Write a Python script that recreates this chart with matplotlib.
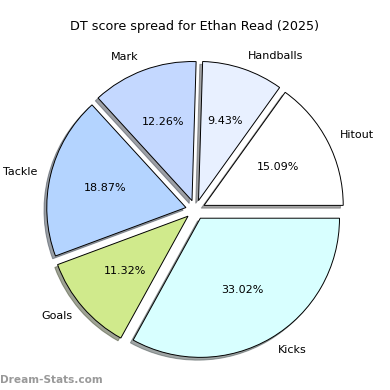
import matplotlib
matplotlib.use("Agg")
import matplotlib.pyplot as plt

labels = ["Hitout", "Handballs", "Mark", "Tackle", "Goals", "Kicks"]
points = [16, 10, 13, 20, 12, 35]
colors = ["#ffffff", "#e8f0ff", "#c4d8ff", "#b4d4ff", "#d0ea8c", "#d8ffff"]
explode = [0.07] * len(labels)

fig = plt.figure(figsize=(3.9, 3.9), dpi=100)
ax = fig.add_axes([0.055, 0.016, 0.892, 0.892])
ax.pie(points, labels=labels, colors=colors, explode=explode, autopct="%1.2f%%",
       startangle=0, shadow={"ox": -0.0144, "oy": -0.0144},
       textprops={"fontsize": 8},
       wedgeprops={"edgecolor": "black", "linewidth": 0.7})
ax.set_aspect("equal")
fig.text(0.5, 0.933, "DT score spread for Ethan Read (2025)", fontsize=9.2,
         ha="center", va="center")
fig.text(0.0, 0.018, "Dream-Stats.com", color="#999999", fontsize=7.6, fontweight="bold")
fig.savefig("out.png", dpi=100)
